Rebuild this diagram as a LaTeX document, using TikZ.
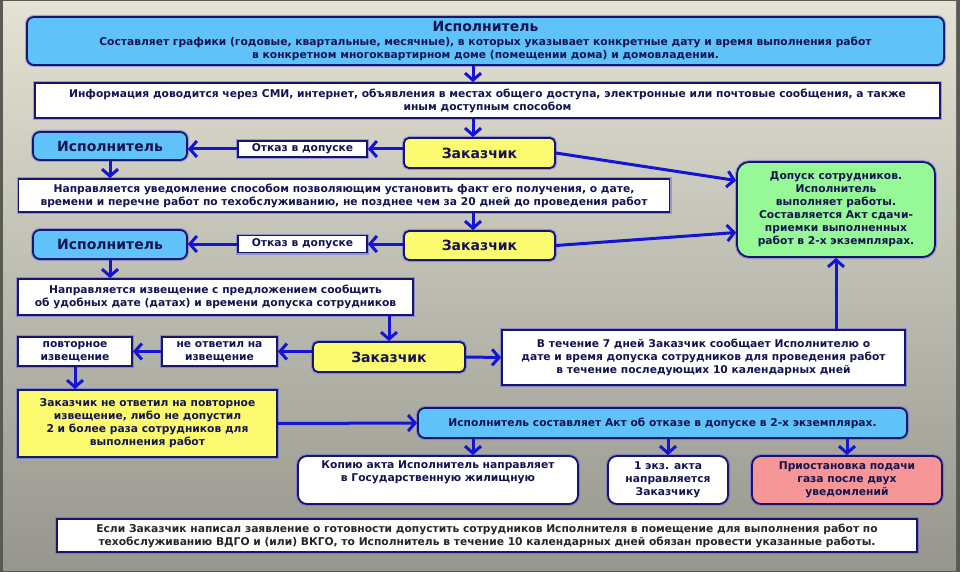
\documentclass[tikz,border=0pt]{standalone}
\usepackage{fontspec}
\setmainfont{DejaVu Sans}
\usetikzlibrary{arrows.meta,calc}

\definecolor{boxline}{RGB}{22,22,110}
\definecolor{arrowblue}{RGB}{20,20,215}
\definecolor{ispblue}{RGB}{95,195,250}
\definecolor{zakyellow}{RGB}{252,250,110}
\definecolor{okgreen}{RGB}{150,248,150}
\definecolor{stoppink}{RGB}{246,150,150}
\definecolor{txt}{RGB}{20,20,80}
\definecolor{bgtop}{RGB}{228,226,212}
\definecolor{bgmid}{RGB}{204,200,186}
\definecolor{bgbot}{RGB}{150,150,142}

\begin{document}
\begin{tikzpicture}
        [x=1pt,y=-1pt,
         box/.style={draw=boxline,line width=1.8pt,text=txt,align=center,inner sep=1pt,
           font=\bfseries\fontsize{10.7}{13}\selectfont,
           preaction={draw=arrowblue!70,line width=4pt,opacity=0.45}},
         whitebox/.style={box,fill=white},
         ispbox/.style={box,fill=ispblue,rounded corners=7pt},
         zakbox/.style={box,fill=zakyellow,rounded corners=5pt},
         okbox/.style={box,fill=okgreen,rounded corners=12pt},
         notebox/.style={box,fill=white,rounded corners=9pt},
         big/.style={font=\bfseries\fontsize{14}{16}\selectfont},
         arr/.style={draw=arrowblue,line width=3pt,-{Straight Barb[length=7pt,width=16pt]}}]

        % background
        \fill[bgbot!60!black] (0,0) rectangle (960,572);
        \shade[top color=bgtop,middle color=bgmid,bottom color=bgbot] (3,2) rectangle (956,570);
        \useasboundingbox (0,0) rectangle (960,572);

        \coordinate (colx) at (473,0);

        % top rows
        \node[ispbox,minimum width=917pt,minimum height=48pt] (top) at (485.5,41)
          {{\fontsize{14}{15}\selectfont Исполнитель}\\[1pt]
           Составляет графики (годовые, квартальные, месячные), в которых указывает конкретные дату и время выполнения работ\\
           в конкретном многоквартирном доме (помещении дома) и домовладении.};
        \node[whitebox,minimum width=905pt,minimum height=35pt] (info) at (487.5,100.5)
          {Информация доводится через СМИ, интернет, объявления в местах общего доступа, электронные или почтовые сообщения, а также\\
           иным доступным способом};

        \node[ispbox,big,minimum width=154pt,minimum height=28pt] (isp1) at (110,146) {Исполнитель};
        \node[whitebox,minimum width=129pt,minimum height=16pt] (otk1) at (302.5,149) {Отказ в допуске};
        \node[zakbox,big,minimum width=151pt,minimum height=30pt] (zak1) at (479.5,153) {Заказчик};

        \node[whitebox,minimum width=651pt,minimum height=33pt] (napr) at (344,195.5)
          {Направляется уведомление способом позволяющим установить факт его получения, о дате,\\
           времени и перечне работ по техобслуживанию, не позднее чем за 20 дней до проведения работ};

        \node[ispbox,big,minimum width=154pt,minimum height=29pt] (isp2) at (110,244.5) {Исполнитель};
        \node[whitebox,minimum width=129pt,minimum height=17pt] (otk2) at (302.5,244) {Отказ в допуске};
        \node[zakbox,big,minimum width=151pt,minimum height=29pt] (zak2) at (479.5,245.5) {Заказчик};

        \node[okbox,minimum width=198pt,minimum height=95pt] (green) at (836,209.5)
          {Допуск сотрудников.\\ Исполнитель\\ выполняет работы.\\ Составляется Акт сдачи-\\
           приемки выполненных\\ работ в 2-х экземплярах.};

        \node[whitebox,minimum width=395pt,minimum height=36pt] (izv) at (215.5,297)
          {Направляется извещение с предложением сообщить\\
           об удобных дате (датах) и времени допуска сотрудников};

        % third customer row
        \node[whitebox,minimum width=114pt,minimum height=29pt] (povt) at (75,351.5) {повторное\\ извещение};
        \node[whitebox,minimum width=115pt,minimum height=29pt] (neotv) at (219.5,351.5) {не ответил на\\ извещение};
        \node[zakbox,big,minimum width=152pt,minimum height=30pt] (zak3) at (389,357) {Заказчик};
        \node[whitebox,minimum width=403pt,minimum height=55pt] (vtech) at (703.5,357.5)
          {В течение 7 дней Заказчик сообщает Исполнителю о\\
           дате и время допуска сотрудников для проведения работ\\
           в течение последующих 10 календарных дней};

        \node[box,fill=zakyellow,minimum width=259pt,minimum height=67pt] (refuse) at (147.5,423.5)
          {Заказчик не ответил на повторное\\ извещение, либо не допустил\\
           2 и более раза сотрудников для\\ выполнения работ};
        \node[ispbox,minimum width=489pt,minimum height=30pt] (ispact) at (662.5,423)
          {Исполнитель составляет Акт об отказе в допуске в 2-х экземплярах.};

        % results
        \node[notebox,minimum width=280pt,minimum height=48pt] (kopiya) at (438,480)
          {Копию акта Исполнитель направляет\\ в Государственную жилищную\\ \strut};
        \node[notebox,minimum width=120pt,minimum height=48pt] (ekz) at (668,480)
          {1 экз. акта\\ направляется\\ Заказчику};
        \node[notebox,fill=stoppink,minimum width=190pt,minimum height=48pt] (pink) at (847,480)
          {Приостановка подачи\\ газа после двух\\ уведомлений};

        \node[whitebox,text=black!85,minimum width=860pt,minimum height=33pt] (bottom) at (487,535.5)
          {Если Заказчик написал заявление о готовности допустить сотрудников Исполнителя в помещение для выполнения работ по\\
           техобслуживанию ВДГО и (или) ВКГО, то Исполнитель в течение 10 календарных дней обязан провести указанные работы.};

        % connectors
        \draw[arr] (top.south -| colx) -- (info.north -| colx);
        \draw[arr] (info.south -| colx) -- (zak1.north -| colx);
        \draw[arr] (zak1.west |- otk1) -- (otk1.east);
        \draw[arr] (otk1.west) -- (isp1.east |- otk1);
        \draw[arr] (isp1.south) -- (napr.north -| isp1);
        \draw[arr] (napr.south -| colx) -- (zak2.north -| colx);
        \draw[arr] (zak2.west |- otk2) -- (otk2.east);
        \draw[arr] (otk2.west) -- (isp2.east |- otk2);
        \draw[arr] (isp2.south) -- (izv.north -| isp2);
        \draw[arr] (zak1.east) -- ($(green.west)+(0,-29)$);
        \draw[arr] (zak2.east) -- ($(green.west)+(0,23)$);
        \draw[arr] (izv.south -| zak3) -- (zak3.north);
        \draw[arr] (zak3.west |- neotv) -- (neotv.east);
        \draw[arr] (neotv.west) -- (povt.east);
        \draw[arr] (zak3.east) -- (vtech.west);
        \draw[arr] (vtech.north -| green) -- (green.south);
        \draw[arr] (povt.south) -- (refuse.north -| povt);
        \draw[arr] (refuse.east) -- (ispact.west);
        \draw[arr] (ispact.south -| colx) -- (kopiya.north -| colx);
        \draw[arr] (ispact.south -| ekz) -- (ekz.north);
        \draw[arr] (ispact.south -| pink) -- (pink.north);
      \end{tikzpicture}
\end{document}
